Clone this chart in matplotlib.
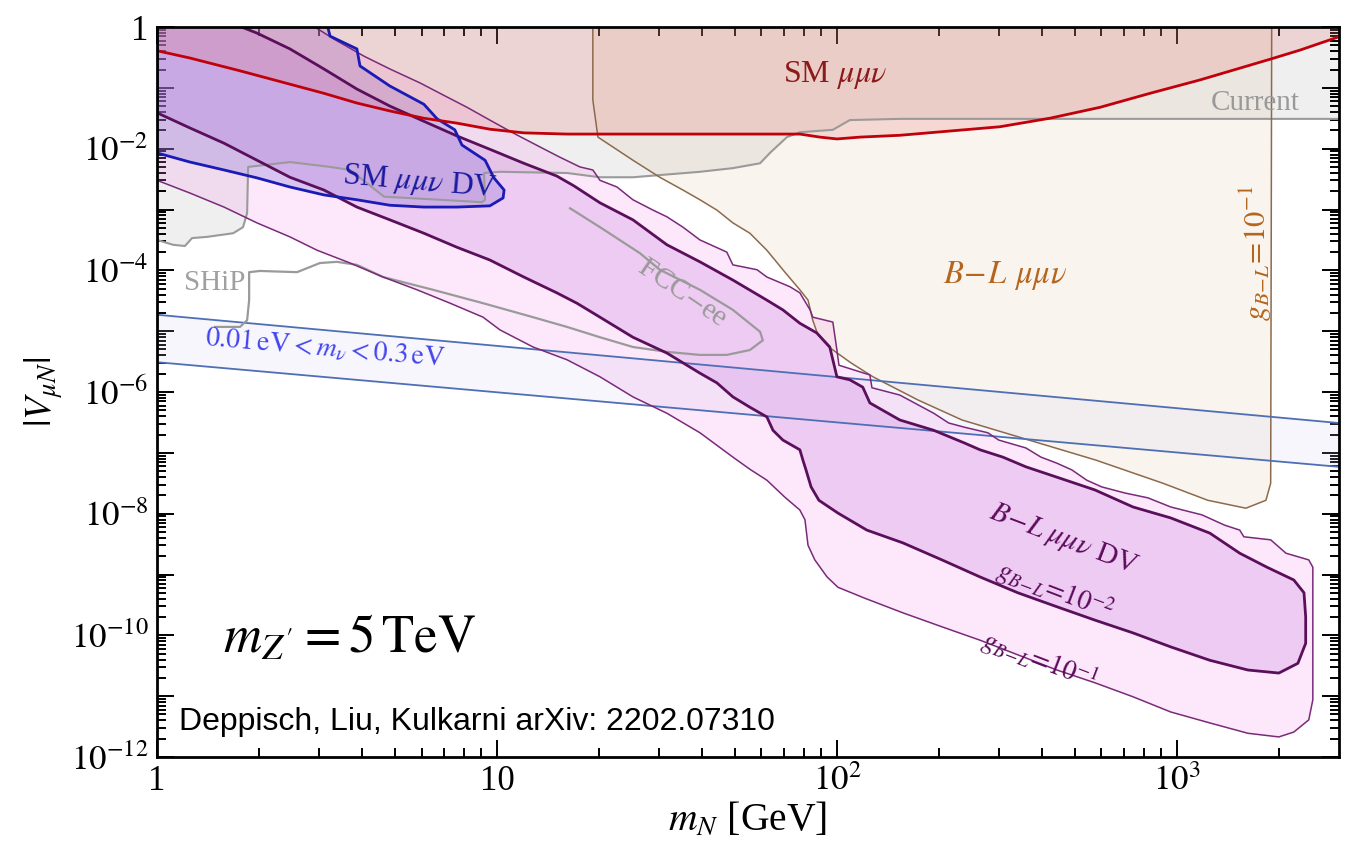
import numpy as np
import matplotlib
matplotlib.use("Agg")
import matplotlib.pyplot as plt
from matplotlib.ticker import FixedLocator, FixedFormatter, NullFormatter

plt.rcParams['font.family'] = ['Liberation Serif', 'DejaVu Serif']
plt.rcParams['mathtext.fontset'] = 'stix'

# ---------------- data: log10(m_N / GeV), log10(|V_muN|) ----------------
# "Current" excluded region (lower boundary)
cur_lx = [0, 0.047, 0.082, 0.103, 0.147, 0.224, 0.253, 0.265, 0.268, 0.391, 0.509, 0.568, 0.668,
          0.832, 0.956, 0.965, 0.962, 1.009, 1.206, 1.303, 1.40, 1.597, 1.694, 1.774, 1.803,
          1.853, 1.891, 1.988, 2.038, 2.185, 3.477]
cur_ly = [-3.50, -3.58, -3.60, -3.47, -3.45, -3.39, -3.29, -3.06, -2.30, -2.22, -2.30, -2.35, -2.79,
          -2.84, -2.88, -2.84, -2.40, -2.38, -2.40, -2.47, -2.47, -2.38, -2.32, -2.24, -2.07,
          -1.81, -1.73, -1.69, -1.53, -1.51, -1.51]

# SHiP + FCC-ee sensitivity line
ship_lx = [0.171, 0.244, 0.265, 0.271, 0.271, 0.303, 0.412, 0.479, 0.529, 0.588, 0.665, 0.812, 0.959,
           1.106, 1.206, 1.303, 1.40, 1.50, 1.597, 1.676, 1.744, 1.782, 1.774, 1.694, 1.597,
           1.479, 1.421, 1.303, 1.215]
ship_ly = [-4.93, -4.93, -4.82, -4.49, -4.03, -4.01, -4.03, -3.88, -3.86, -3.91, -4.11, -4.32, -4.54,
           -4.77, -4.93, -5.10, -5.26, -5.34, -5.39, -5.39, -5.31, -5.15, -5.01, -4.65, -4.32,
           -3.99, -3.72, -3.29, -2.98]

# SM mu mu nu prompt reach
sm_lx = [0, 0.097, 0.244, 0.391, 0.491, 0.588, 0.685, 0.785, 0.882, 0.979, 1.079, 1.206, 1.450,
         1.694, 1.891, 1.950, 2.0, 2.068, 2.185, 2.479, 2.626, 2.774, 2.921, 3.068, 3.165, 3.274,
         3.362, 3.477]
sm_ly = [-0.39, -0.51, -0.72, -0.94, -1.09, -1.25, -1.38, -1.50, -1.58, -1.68, -1.74, -1.76, -1.76,
         -1.76, -1.76, -1.81, -1.84, -1.81, -1.78, -1.64, -1.50, -1.32, -1.09, -0.87, -0.71, -0.53,
         -0.38, -0.16]

# B-L mu mu nu prompt reach
bl_lx = [1.282, 1.282, 1.297, 1.40, 1.479, 1.547, 1.597, 1.647, 1.694, 1.744, 1.794, 1.847, 1.891,
         1.915, 1.929, 1.944, 1.976, 2.041, 2.106, 2.238, 2.368, 2.565, 2.762, 2.959, 3.091, 3.203,
         3.262, 3.276, 3.279]
bl_ly = [0.05, -1.20, -1.81, -2.19, -2.47, -2.68, -2.84, -3.01, -3.22, -3.39, -3.67, -4.03, -4.32,
         -4.49, -4.82, -5.06, -5.26, -5.52, -5.75, -6.13, -6.46, -6.79, -7.12, -7.50, -7.78, -7.91,
         -7.78, -7.50, 0.05]

# light-neutrino mass band (seesaw), edges at m_N = 1 and 3000 GeV
nu_lx = [0, 3.477]
nu_hi = [-4.73, -6.51]
nu_lo = [-5.51, -7.23]

# SM mu mu nu displaced vertex
dv_lx = [0, 0.50, 0.509, 0.588, 0.597, 0.685, 0.785, 0.824, 0.876, 0.897, 0.965, 0.991, 1.021, 1.018,
         0.979, 0.882, 0.785, 0.685, 0.588, 0.491, 0.391, 0.294, 0.197, 0.097, 0]
dv_ly = [0.05, 0.05, -0.15, -0.36, -0.64, -0.97, -1.27, -1.51, -1.69, -1.94, -2.19, -2.48, -2.68,
         -2.81, -2.94, -2.96, -2.96, -2.93, -2.84, -2.76, -2.63, -2.48, -2.35, -2.22, -2.07]

# B-L displaced vertex, g_{B-L} = 0.1
g1_lx = [0, 0.45, 0.521, 0.609, 0.685, 0.774, 0.853, 0.912, 0.979, 1.047, 1.126, 1.185, 1.244, 1.282,
         1.303, 1.353, 1.40, 1.459, 1.50, 1.547, 1.597, 1.676, 1.694, 1.765, 1.794, 1.862, 1.891,
         1.921, 1.929, 1.988, 2.0, 2.006, 2.097, 2.103, 2.185, 2.285, 2.329, 2.376, 2.444, 2.476,
         2.556, 2.60, 2.647, 2.691, 2.735, 2.779, 2.847, 2.915, 2.982, 3.074, 3.141, 3.185, 3.197,
         3.276, 3.321, 3.388, 3.40, 3.40, 3.388, 3.344, 3.30, 3.209, 3.097, 2.982, 2.871, 2.759,
         2.647, 2.532, 2.421, 2.309, 2.194, 2.082, 2.003, 1.971, 1.935, 1.915, 1.906, 1.891, 1.847,
         1.794, 1.744, 1.694, 1.597, 1.50, 1.40, 1.303, 1.206, 1.106, 1.009, 0.959, 0.862, 0.765,
         0.665, 0.568, 0.471, 0.391, 0.294, 0.197, 0.097, 0]
g1_ly = [0.05, 0.05, -0.20, -0.48, -0.69, -0.92, -1.15, -1.32, -1.53, -1.74, -1.97, -2.14, -2.30,
         -2.35, -2.52, -2.63, -2.84, -3.01, -3.12, -3.29, -3.50, -3.70, -3.91, -3.99, -4.11, -4.27,
         -4.37, -4.65, -4.77, -4.85, -5.31, -5.56, -5.72, -5.93, -6.05, -6.35, -6.51, -6.58, -6.67,
         -6.79, -6.92, -7.07, -7.17, -7.28, -7.45, -7.56, -7.66, -7.74, -7.89, -8.02, -8.19, -8.27,
         -8.38, -8.43, -8.65, -8.76, -8.88, -11.06, -11.39, -11.59, -11.67, -11.61, -11.44, -11.26,
         -11.01, -10.78, -10.57, -10.32, -10.08, -9.86, -9.63, -9.39, -9.21, -9.04, -8.76, -8.52,
         -8.10, -7.94, -7.73, -7.45, -7.27, -7.07, -6.67, -6.35, -6.08, -5.75, -5.47, -5.26, -4.98,
         -4.77, -4.54, -4.32, -4.11, -3.88, -3.67, -3.45, -3.22, -2.96, -2.73, -2.52]

# B-L displaced vertex, g_{B-L} = 0.01
g2_lx = [0, 0.226, 0.294, 0.391, 0.491, 0.588, 0.685, 0.785, 0.882, 0.979, 1.079, 1.176, 1.226, 1.303,
         1.40, 1.50, 1.597, 1.694, 1.794, 1.841, 1.891, 1.941, 1.979, 1.988, 2.0, 2.038, 2.076,
         2.097, 2.185, 2.285, 2.376, 2.421, 2.488, 2.556, 2.647, 2.759, 2.871, 2.982, 3.097, 3.185,
         3.265, 3.344, 3.374, 3.379, 3.379, 3.356, 3.30, 3.209, 3.097, 2.982, 2.871, 2.759, 2.647,
         2.532, 2.421, 2.309, 2.194, 2.088, 2.003, 1.947, 1.924, 1.909, 1.90, 1.891, 1.841, 1.812,
         1.794, 1.744, 1.694, 1.647, 1.597, 1.547, 1.50, 1.40, 1.303, 1.235, 1.176, 1.079, 0.979,
         0.882, 0.785, 0.685, 0.588, 0.491, 0.391, 0.294, 0.197, 0.097, 0]
g2_ly = [0.05, 0.05, -0.10, -0.36, -0.69, -1.02, -1.30, -1.55, -1.79, -2.01, -2.24, -2.45, -2.61,
         -2.89, -3.17, -3.58, -3.86, -4.16, -4.49, -4.65, -4.87, -5.03, -5.26, -5.47, -5.75, -5.80,
         -5.92, -6.18, -6.46, -6.63, -6.84, -6.95, -7.07, -7.23, -7.40, -7.61, -7.89, -8.07, -8.32,
         -8.65, -8.88, -9.09, -9.30, -9.70, -10.13, -10.46, -10.62, -10.57, -10.41, -10.19, -9.96,
         -9.75, -9.53, -9.30, -9.04, -8.76, -8.48, -8.27, -7.99, -7.78, -7.56, -7.28, -7.12, -6.95,
         -6.79, -6.63, -6.41, -6.25, -6.08, -5.85, -5.69, -5.52, -5.36, -5.10, -4.77, -4.54, -4.37,
         -4.11, -3.83, -3.62, -3.39, -3.17, -2.96, -2.68, -2.47, -2.19, -1.91, -1.66, -1.41]

x_ticks = [1, 10, 100, 1000]
x_ticklabels = ['1', '10', r'$10^2$', r'$10^3$']
y_ticks = [10.0 ** k for k in range(-12, 1)]
y_ticklabels = [r'$10^{%d}$' % k if k % 2 == 0 and k != 0 else ('1' if k == 0 else '')
                for k in range(-12, 1)]


def lin(a):
    return 10.0 ** np.asarray(a, dtype=float)


fig = plt.figure(figsize=(13.56, 8.52), dpi=100)
ax = fig.add_axes([0.1158, 0.1115, 0.8717, 0.8568])
ax.set_xscale('log')
ax.set_yscale('log')

TOP = 0.1
# Current (gray)
ax.fill(lin(cur_lx + [cur_lx[-1], cur_lx[0]]), lin(cur_ly + [TOP, TOP]),
        facecolor='#d9d9d9', alpha=0.42, lw=0, zorder=1)
ax.plot(lin(cur_lx), lin(cur_ly), color='#9a9a9a', lw=1.5, zorder=9)

# B-L mu mu nu (beige)
ax.fill(lin(bl_lx), lin(bl_ly), facecolor=(215/255, 170/255, 120/255), alpha=0.12,
        edgecolor='none', zorder=2)
ax.plot(lin(bl_lx), lin(bl_ly), color='#8c6a4c', lw=1.1, zorder=9)

# neutrino band
ax.fill_between(lin(nu_lx), lin(nu_lo), lin(nu_hi), facecolor=(200/255, 200/255, 240/255),
                alpha=0.15, lw=0, zorder=3)
ax.plot(lin(nu_lx), lin(nu_hi), color='#4e6fb5', lw=1.3, zorder=9)
ax.plot(lin(nu_lx), lin(nu_lo), color='#4e6fb5', lw=1.3, zorder=9)

# B-L DV g=0.1
ax.fill(lin(g1_lx), lin(g1_ly), facecolor=(240/255, 140/255, 230/255), alpha=0.2,
        edgecolor='none', zorder=4)
ax.plot(lin(g1_lx + [g1_lx[0]]), lin(g1_ly + [g1_ly[0]]), color='#7a2a7a', lw=1.1, zorder=10)

# B-L DV g=0.01
ax.fill(lin(g2_lx), lin(g2_ly), facecolor=(200/255, 120/255, 220/255), alpha=0.25,
        edgecolor='none', zorder=5)
ax.plot(lin(g2_lx + [g2_lx[0]]), lin(g2_ly + [g2_ly[0]]), color='#5a0f5a', lw=2.0, zorder=10)

# SM DV
ax.fill(lin(dv_lx), lin(dv_ly), facecolor=(125/255, 105/255, 215/255), alpha=0.28,
        edgecolor='none', zorder=6)
ax.plot(lin(dv_lx + [dv_lx[0]]), lin(dv_ly + [dv_ly[0]]), color='#1a1ab4', lw=2.0, zorder=11)

# SM mu mu nu (red), drawn over the DV regions
ax.fill(lin(sm_lx + [sm_lx[-1], sm_lx[0]]), lin(sm_ly + [TOP, TOP]),
        facecolor=(232/255, 118/255, 118/255), alpha=0.22, lw=0, zorder=7)

# SHiP / FCC-ee line
ax.plot(lin(ship_lx), lin(ship_ly), color='#9a9a9a', lw=1.6, zorder=9)

# SM red line
ax.plot(lin(sm_lx), lin(sm_ly), color='#c0000a', lw=2.0, zorder=12)

ax.set_xlim(1, 3000)
ax.set_ylim(1e-12, 1)

# ticks
ax.xaxis.set_major_locator(FixedLocator(x_ticks))
ax.xaxis.set_major_formatter(FixedFormatter(x_ticklabels))
xminor = [m * 10 ** d for d in range(0, 4) for m in range(2, 10) if m * 10 ** d < 3000]
ax.xaxis.set_minor_locator(FixedLocator(xminor))
ax.xaxis.set_minor_formatter(NullFormatter())
ax.yaxis.set_major_locator(FixedLocator(y_ticks))
ax.yaxis.set_major_formatter(FixedFormatter(y_ticklabels))
yminor = [m * 10.0 ** d for d in range(-12, 0) for m in range(2, 10)]
ax.yaxis.set_minor_locator(FixedLocator(yminor))
ax.yaxis.set_minor_formatter(NullFormatter())
ax.tick_params(which='both', direction='in', top=True, right=True, width=1.4, labelsize=25)
ax.tick_params(which='major', length=12, pad=6)
ax.tick_params(which='minor', length=6.5)
for s in ax.spines.values():
    s.set_linewidth(2.0)
    s.set_zorder(20)

ax.set_xlabel(r'$m_N$ [GeV]', fontsize=28.5, labelpad=2)
ax.set_ylabel(r'$|V_{\mu N}|$', fontsize=27, labelpad=4)

# labels
ax.text(lin(1.994), lin(-0.79), r'SM $\mu\mu\nu$', color='#8b1a1a', fontsize=23,
        ha='center', va='center', zorder=15)
ax.text(lin(3.229), lin(-1.25), 'Current', color='#999999', fontsize=21,
        ha='center', va='center', zorder=15)
ax.text(lin(0.774), lin(-2.55), r'SM $\mu\mu\nu$ DV', color='#1a1aa0', fontsize=22.5,
        ha='center', va='center', rotation=-5, rotation_mode='anchor', zorder=15)
ax.text(lin(0.171), lin(-4.21), 'SHiP', color='#a0a0a0', fontsize=21,
        ha='center', va='center', zorder=15)
ax.text(lin(1.544), lin(-4.37), r'FCC$-$ee', color='#999999', fontsize=21,
        ha='center', va='center', rotation=-34, rotation_mode='anchor', zorder=15)
ax.text(lin(0.494), lin(-5.28), r'$0.01\,\mathrm{eV}<m_\nu<0.3\,\mathrm{eV}$', color='#4444ee',
        fontsize=20, ha='center', va='center', rotation=-5, rotation_mode='anchor', zorder=15)
ax.text(lin(2.494), lin(-4.08), r'$B\!-\!L\;\,\mu\mu\nu$', color='#b5651d', fontsize=23.5,
        ha='center', va='center', zorder=15)
ax.text(lin(3.232), lin(-3.72), r'$g_{B\!-\!L}\!=\!10^{-1}$', color='#b5651d', fontsize=22,
        ha='center', va='center', rotation=90, rotation_mode='anchor', zorder=15)
ax.text(lin(2.665), lin(-8.43), r'$B\!-\!L\;\mu\mu\nu$ DV', color='#5c0b5c', fontsize=21,
        ha='center', va='center', rotation=-21, rotation_mode='anchor', zorder=15)
ax.text(lin(2.641), lin(-9.26), r'$g_{B\!-\!L}\!=\!10^{-2}$', color='#5c0b5c', fontsize=19.5,
        ha='center', va='center', rotation=-21, rotation_mode='anchor', zorder=15)
ax.text(lin(2.597), lin(-10.41), r'$g_{B\!-\!L}\!=\!10^{-1}$', color='#5c0b5c', fontsize=19.5,
        ha='center', va='center', rotation=-21, rotation_mode='anchor', zorder=15)
ax.text(0.163, 0.162, r"$m_{Z'} = 5\,\mathrm{TeV}$", transform=ax.transAxes, fontsize=38,
        ha='center', va='center', zorder=15)
ax.text(0.019, 0.048, 'Deppisch, Liu, Kulkarni arXiv: 2202.07310', transform=ax.transAxes,
        fontsize=23, family='Liberation Sans', ha='left', va='center', zorder=15)

fig.savefig('out.png', dpi=100)
